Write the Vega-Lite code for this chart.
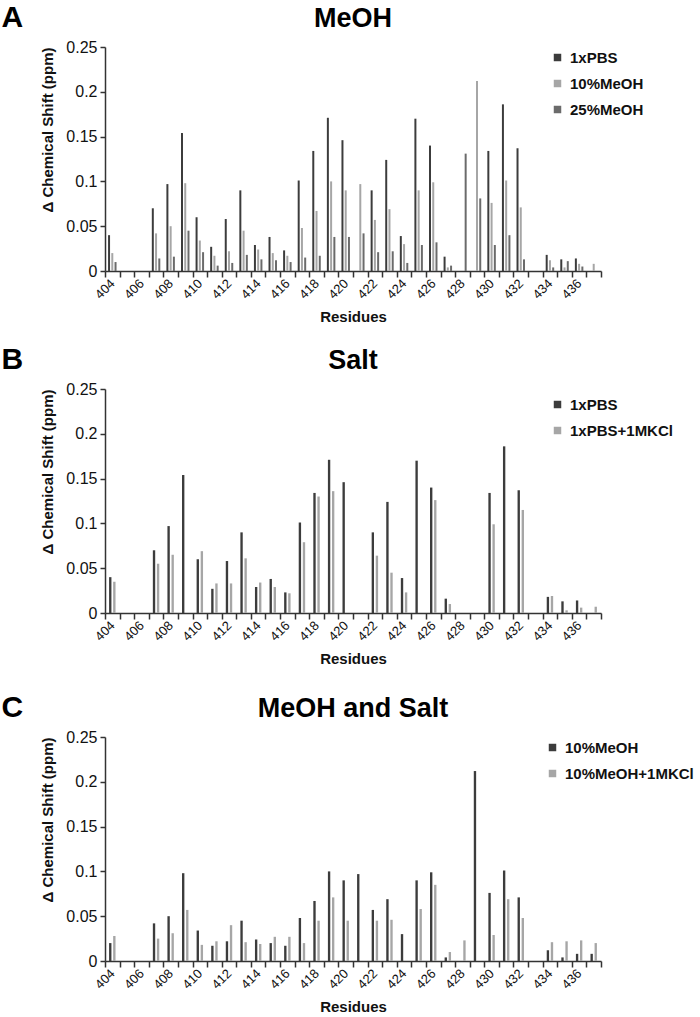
{
  "$schema": "https://vega.github.io/schema/vega-lite/v6.json",
  "padding": {"left": 1, "top": 3, "right": 0, "bottom": 0},
  "background": "white",
  "config": {
    "font": "Liberation Sans",
    "view": {"stroke": null},
    "axis": {"grid": false, "domainColor": "#333333", "domainWidth": 1.5, "tickColor": "#333333", "tickWidth": 1.5, "labelColor": "#111111", "titleColor": "#111111", "labelFont": "Liberation Sans", "titleFont": "Liberation Sans"},
    "legend": {"labelFont": "Liberation Sans"},
    "title": {"font": "Liberation Sans", "color": "#000000"}
  },
  "datasets": {
    "A": [
      {"residue": 404, "series": "1xPBS", "value": 0.040}, {"residue": 404, "series": "10%MeOH", "value": 0.020}, {"residue": 404, "series": "25%MeOH", "value": 0.010},
      {"residue": 407, "series": "1xPBS", "value": 0.070}, {"residue": 407, "series": "10%MeOH", "value": 0.042}, {"residue": 407, "series": "25%MeOH", "value": 0.014},
      {"residue": 408, "series": "1xPBS", "value": 0.097}, {"residue": 408, "series": "10%MeOH", "value": 0.050}, {"residue": 408, "series": "25%MeOH", "value": 0.016},
      {"residue": 409, "series": "1xPBS", "value": 0.154}, {"residue": 409, "series": "10%MeOH", "value": 0.098}, {"residue": 409, "series": "25%MeOH", "value": 0.045},
      {"residue": 410, "series": "1xPBS", "value": 0.060}, {"residue": 410, "series": "10%MeOH", "value": 0.034}, {"residue": 410, "series": "25%MeOH", "value": 0.021},
      {"residue": 411, "series": "1xPBS", "value": 0.027}, {"residue": 411, "series": "10%MeOH", "value": 0.017}, {"residue": 411, "series": "25%MeOH", "value": 0.006},
      {"residue": 412, "series": "1xPBS", "value": 0.058}, {"residue": 412, "series": "10%MeOH", "value": 0.022}, {"residue": 412, "series": "25%MeOH", "value": 0.009},
      {"residue": 413, "series": "1xPBS", "value": 0.090}, {"residue": 413, "series": "10%MeOH", "value": 0.045}, {"residue": 413, "series": "25%MeOH", "value": 0.018},
      {"residue": 414, "series": "1xPBS", "value": 0.029}, {"residue": 414, "series": "10%MeOH", "value": 0.024}, {"residue": 414, "series": "25%MeOH", "value": 0.013},
      {"residue": 415, "series": "1xPBS", "value": 0.038}, {"residue": 415, "series": "10%MeOH", "value": 0.020}, {"residue": 415, "series": "25%MeOH", "value": 0.012},
      {"residue": 416, "series": "1xPBS", "value": 0.023}, {"residue": 416, "series": "10%MeOH", "value": 0.017}, {"residue": 416, "series": "25%MeOH", "value": 0.010},
      {"residue": 417, "series": "1xPBS", "value": 0.101}, {"residue": 417, "series": "10%MeOH", "value": 0.048}, {"residue": 417, "series": "25%MeOH", "value": 0.015},
      {"residue": 418, "series": "1xPBS", "value": 0.134}, {"residue": 418, "series": "10%MeOH", "value": 0.067}, {"residue": 418, "series": "25%MeOH", "value": 0.017},
      {"residue": 419, "series": "1xPBS", "value": 0.171}, {"residue": 419, "series": "10%MeOH", "value": 0.100}, {"residue": 419, "series": "25%MeOH", "value": 0.038},
      {"residue": 420, "series": "1xPBS", "value": 0.146}, {"residue": 420, "series": "10%MeOH", "value": 0.090}, {"residue": 420, "series": "25%MeOH", "value": 0.038},
      {"residue": 421, "series": "10%MeOH", "value": 0.097}, {"residue": 421, "series": "25%MeOH", "value": 0.042},
      {"residue": 422, "series": "1xPBS", "value": 0.090}, {"residue": 422, "series": "10%MeOH", "value": 0.057}, {"residue": 422, "series": "25%MeOH", "value": 0.021},
      {"residue": 423, "series": "1xPBS", "value": 0.124}, {"residue": 423, "series": "10%MeOH", "value": 0.069}, {"residue": 423, "series": "25%MeOH", "value": 0.022},
      {"residue": 424, "series": "1xPBS", "value": 0.039}, {"residue": 424, "series": "10%MeOH", "value": 0.030}, {"residue": 424, "series": "25%MeOH", "value": 0.009},
      {"residue": 425, "series": "1xPBS", "value": 0.170}, {"residue": 425, "series": "10%MeOH", "value": 0.090}, {"residue": 425, "series": "25%MeOH", "value": 0.029},
      {"residue": 426, "series": "1xPBS", "value": 0.140}, {"residue": 426, "series": "10%MeOH", "value": 0.099}, {"residue": 426, "series": "25%MeOH", "value": 0.032},
      {"residue": 427, "series": "1xPBS", "value": 0.016}, {"residue": 427, "series": "10%MeOH", "value": 0.004}, {"residue": 427, "series": "25%MeOH", "value": 0.006},
      {"residue": 428, "series": "25%MeOH", "value": 0.131},
      {"residue": 429, "series": "10%MeOH", "value": 0.212}, {"residue": 429, "series": "25%MeOH", "value": 0.081},
      {"residue": 430, "series": "1xPBS", "value": 0.134}, {"residue": 430, "series": "10%MeOH", "value": 0.076}, {"residue": 430, "series": "25%MeOH", "value": 0.029},
      {"residue": 431, "series": "1xPBS", "value": 0.186}, {"residue": 431, "series": "10%MeOH", "value": 0.101}, {"residue": 431, "series": "25%MeOH", "value": 0.040},
      {"residue": 432, "series": "1xPBS", "value": 0.137}, {"residue": 432, "series": "10%MeOH", "value": 0.071}, {"residue": 432, "series": "25%MeOH", "value": 0.013},
      {"residue": 434, "series": "1xPBS", "value": 0.018}, {"residue": 434, "series": "10%MeOH", "value": 0.012}, {"residue": 434, "series": "25%MeOH", "value": 0.004},
      {"residue": 435, "series": "1xPBS", "value": 0.013}, {"residue": 435, "series": "10%MeOH", "value": 0.004}, {"residue": 435, "series": "25%MeOH", "value": 0.011},
      {"residue": 436, "series": "1xPBS", "value": 0.014}, {"residue": 436, "series": "10%MeOH", "value": 0.008}, {"residue": 436, "series": "25%MeOH", "value": 0.005},
      {"residue": 437, "series": "10%MeOH", "value": 0.008}
    ],
    "B": [
      {"residue": 404, "series": "1xPBS", "value": 0.040}, {"residue": 404, "series": "1xPBS+1MKCl", "value": 0.035},
      {"residue": 407, "series": "1xPBS", "value": 0.070}, {"residue": 407, "series": "1xPBS+1MKCl", "value": 0.055},
      {"residue": 408, "series": "1xPBS", "value": 0.097}, {"residue": 408, "series": "1xPBS+1MKCl", "value": 0.065},
      {"residue": 409, "series": "1xPBS", "value": 0.154},
      {"residue": 410, "series": "1xPBS", "value": 0.060}, {"residue": 410, "series": "1xPBS+1MKCl", "value": 0.069},
      {"residue": 411, "series": "1xPBS", "value": 0.027}, {"residue": 411, "series": "1xPBS+1MKCl", "value": 0.033},
      {"residue": 412, "series": "1xPBS", "value": 0.058}, {"residue": 412, "series": "1xPBS+1MKCl", "value": 0.033},
      {"residue": 413, "series": "1xPBS", "value": 0.090}, {"residue": 413, "series": "1xPBS+1MKCl", "value": 0.061},
      {"residue": 414, "series": "1xPBS", "value": 0.029}, {"residue": 414, "series": "1xPBS+1MKCl", "value": 0.034},
      {"residue": 415, "series": "1xPBS", "value": 0.038}, {"residue": 415, "series": "1xPBS+1MKCl", "value": 0.029},
      {"residue": 416, "series": "1xPBS", "value": 0.023}, {"residue": 416, "series": "1xPBS+1MKCl", "value": 0.022},
      {"residue": 417, "series": "1xPBS", "value": 0.101}, {"residue": 417, "series": "1xPBS+1MKCl", "value": 0.079},
      {"residue": 418, "series": "1xPBS", "value": 0.134}, {"residue": 418, "series": "1xPBS+1MKCl", "value": 0.130},
      {"residue": 419, "series": "1xPBS", "value": 0.171}, {"residue": 419, "series": "1xPBS+1MKCl", "value": 0.136},
      {"residue": 420, "series": "1xPBS", "value": 0.146},
      {"residue": 422, "series": "1xPBS", "value": 0.090}, {"residue": 422, "series": "1xPBS+1MKCl", "value": 0.064},
      {"residue": 423, "series": "1xPBS", "value": 0.124}, {"residue": 423, "series": "1xPBS+1MKCl", "value": 0.045},
      {"residue": 424, "series": "1xPBS", "value": 0.039}, {"residue": 424, "series": "1xPBS+1MKCl", "value": 0.023},
      {"residue": 425, "series": "1xPBS", "value": 0.170},
      {"residue": 426, "series": "1xPBS", "value": 0.140}, {"residue": 426, "series": "1xPBS+1MKCl", "value": 0.126},
      {"residue": 427, "series": "1xPBS", "value": 0.016}, {"residue": 427, "series": "1xPBS+1MKCl", "value": 0.010},
      {"residue": 430, "series": "1xPBS", "value": 0.134}, {"residue": 430, "series": "1xPBS+1MKCl", "value": 0.099},
      {"residue": 431, "series": "1xPBS", "value": 0.186},
      {"residue": 432, "series": "1xPBS", "value": 0.137}, {"residue": 432, "series": "1xPBS+1MKCl", "value": 0.115},
      {"residue": 434, "series": "1xPBS", "value": 0.018}, {"residue": 434, "series": "1xPBS+1MKCl", "value": 0.019},
      {"residue": 435, "series": "1xPBS", "value": 0.013}, {"residue": 435, "series": "1xPBS+1MKCl", "value": 0.003},
      {"residue": 436, "series": "1xPBS", "value": 0.014}, {"residue": 436, "series": "1xPBS+1MKCl", "value": 0.006},
      {"residue": 437, "series": "1xPBS+1MKCl", "value": 0.007}
    ],
    "C": [
      {"residue": 404, "series": "10%MeOH", "value": 0.020}, {"residue": 404, "series": "10%MeOH+1MKCl", "value": 0.028},
      {"residue": 407, "series": "10%MeOH", "value": 0.042}, {"residue": 407, "series": "10%MeOH+1MKCl", "value": 0.025},
      {"residue": 408, "series": "10%MeOH", "value": 0.050}, {"residue": 408, "series": "10%MeOH+1MKCl", "value": 0.031},
      {"residue": 409, "series": "10%MeOH", "value": 0.098}, {"residue": 409, "series": "10%MeOH+1MKCl", "value": 0.057},
      {"residue": 410, "series": "10%MeOH", "value": 0.034}, {"residue": 410, "series": "10%MeOH+1MKCl", "value": 0.018},
      {"residue": 411, "series": "10%MeOH", "value": 0.017}, {"residue": 411, "series": "10%MeOH+1MKCl", "value": 0.022},
      {"residue": 412, "series": "10%MeOH", "value": 0.022}, {"residue": 412, "series": "10%MeOH+1MKCl", "value": 0.040},
      {"residue": 413, "series": "10%MeOH", "value": 0.045}, {"residue": 413, "series": "10%MeOH+1MKCl", "value": 0.021},
      {"residue": 414, "series": "10%MeOH", "value": 0.024}, {"residue": 414, "series": "10%MeOH+1MKCl", "value": 0.019},
      {"residue": 415, "series": "10%MeOH", "value": 0.020}, {"residue": 415, "series": "10%MeOH+1MKCl", "value": 0.027},
      {"residue": 416, "series": "10%MeOH", "value": 0.017}, {"residue": 416, "series": "10%MeOH+1MKCl", "value": 0.027},
      {"residue": 417, "series": "10%MeOH", "value": 0.048}, {"residue": 417, "series": "10%MeOH+1MKCl", "value": 0.020},
      {"residue": 418, "series": "10%MeOH", "value": 0.067}, {"residue": 418, "series": "10%MeOH+1MKCl", "value": 0.045},
      {"residue": 419, "series": "10%MeOH", "value": 0.100}, {"residue": 419, "series": "10%MeOH+1MKCl", "value": 0.071},
      {"residue": 420, "series": "10%MeOH", "value": 0.090}, {"residue": 420, "series": "10%MeOH+1MKCl", "value": 0.045},
      {"residue": 421, "series": "10%MeOH", "value": 0.097},
      {"residue": 422, "series": "10%MeOH", "value": 0.057}, {"residue": 422, "series": "10%MeOH+1MKCl", "value": 0.045},
      {"residue": 423, "series": "10%MeOH", "value": 0.069}, {"residue": 423, "series": "10%MeOH+1MKCl", "value": 0.046},
      {"residue": 424, "series": "10%MeOH", "value": 0.030},
      {"residue": 425, "series": "10%MeOH", "value": 0.090}, {"residue": 425, "series": "10%MeOH+1MKCl", "value": 0.058},
      {"residue": 426, "series": "10%MeOH", "value": 0.099}, {"residue": 426, "series": "10%MeOH+1MKCl", "value": 0.085},
      {"residue": 427, "series": "10%MeOH", "value": 0.004}, {"residue": 427, "series": "10%MeOH+1MKCl", "value": 0.010},
      {"residue": 428, "series": "10%MeOH+1MKCl", "value": 0.023},
      {"residue": 429, "series": "10%MeOH", "value": 0.212},
      {"residue": 430, "series": "10%MeOH", "value": 0.076}, {"residue": 430, "series": "10%MeOH+1MKCl", "value": 0.029},
      {"residue": 431, "series": "10%MeOH", "value": 0.101}, {"residue": 431, "series": "10%MeOH+1MKCl", "value": 0.069},
      {"residue": 432, "series": "10%MeOH", "value": 0.071}, {"residue": 432, "series": "10%MeOH+1MKCl", "value": 0.048},
      {"residue": 434, "series": "10%MeOH", "value": 0.012}, {"residue": 434, "series": "10%MeOH+1MKCl", "value": 0.021},
      {"residue": 435, "series": "10%MeOH", "value": 0.004}, {"residue": 435, "series": "10%MeOH+1MKCl", "value": 0.022},
      {"residue": 436, "series": "10%MeOH", "value": 0.008}, {"residue": 436, "series": "10%MeOH+1MKCl", "value": 0.023},
      {"residue": 437, "series": "10%MeOH", "value": 0.008}, {"residue": 437, "series": "10%MeOH+1MKCl", "value": 0.020}
    ]
  },
  "spacing": 20,
  "resolve": {"scale": {"x": "independent", "y": "independent", "color": "independent", "xOffset": "independent"}, "legend": {"color": "independent"}},
  "vconcat": [
    {
      "title": {"text": "A", "orient": "left", "angle": 0, "anchor": "end", "align": "right", "baseline": "top", "fontSize": 30, "fontWeight": "bold", "offset": -4, "dy": -2},
      "vconcat": [
        {
          "title": {"text": "MeOH", "fontSize": 27, "fontWeight": "bold", "baseline": "alphabetic", "offset": -15},
          "width": 496, "height": 224,
          "data": {"name": "A"},
          "mark": {"type": "bar"},
          "encoding": {
            "x": {"field": "residue", "type": "ordinal", "title": "Residues",
              "scale": {"domain": [404,405,406,407,408,409,410,411,412,413,414,415,416,417,418,419,420,421,422,423,424,425,426,427,428,429,430,431,432,433,434,435,436,437], "paddingInner": 0, "paddingOuter": 0},
              "axis": {"labelExpr": "datum.value % 2 == 0 ? datum.label : ''", "labelAngle": -45, "labelAlign": "right", "labelBaseline": "middle", "labelFontSize": 13, "labelOverlap": false, "labelFlush": false, "tickBand": "extent", "tickSize": 6, "labelPadding": 4, "titleFontSize": 15, "titleFontWeight": "bold", "titlePadding": 8}},
            "xOffset": {"field": "series", "type": "nominal", "scale": {"domain": ["1xPBS", "10%MeOH", "25%MeOH"], "paddingInner": 0.385, "paddingOuter": 0.94}},
            "y": {"field": "value", "type": "quantitative", "title": "Δ Chemical Shift (ppm)",
              "scale": {"domain": [0, 0.25], "nice": false},
              "axis": {"values": [0, 0.05, 0.1, 0.15, 0.2, 0.25], "format": ".2~f", "labelFontSize": 16, "tickSize": 5, "labelPadding": 3, "titleFontSize": 15, "titleFontWeight": "bold", "titleAnchor": "end", "titlePadding": 10}},
            "color": {"field": "series", "type": "nominal",
              "scale": {"domain": ["1xPBS", "10%MeOH", "25%MeOH"], "range": ["#3c3c3c", "#a6a6a6", "#6b6b6b"]},
              "legend": {"orient": "none", "legendX": 445, "legendY": 3, "title": null, "symbolType": "square", "symbolSize": 56, "symbolStrokeWidth": 0, "labelFontSize": 15, "labelFontWeight": "bold", "labelColor": "#111111", "rowPadding": 10, "labelOffset": 5, "padding": 0}}
          }
        }
      ]
    },
    {
      "spacing": 26,
      "resolve": {"scale": {"x": "independent", "y": "independent", "color": "independent", "xOffset": "independent"}, "legend": {"color": "independent"}},
      "vconcat": [
        {
          "title": {"text": "B", "orient": "left", "angle": 0, "anchor": "end", "align": "right", "baseline": "top", "fontSize": 30, "fontWeight": "bold", "offset": -4, "dy": -2},
          "vconcat": [
            {
              "title": {"text": "Salt", "fontSize": 27, "fontWeight": "bold", "baseline": "alphabetic", "offset": -15},
              "width": 496, "height": 224,
              "data": {"name": "B"},
              "mark": {"type": "bar"},
              "encoding": {
                "x": {"field": "residue", "type": "ordinal", "title": "Residues",
                  "scale": {"domain": [404,405,406,407,408,409,410,411,412,413,414,415,416,417,418,419,420,421,422,423,424,425,426,427,428,429,430,431,432,433,434,435,436,437], "paddingInner": 0, "paddingOuter": 0},
                  "axis": {"labelExpr": "datum.value % 2 == 0 ? datum.label : ''", "labelAngle": -45, "labelAlign": "right", "labelBaseline": "middle", "labelFontSize": 13, "labelOverlap": false, "labelFlush": false, "tickBand": "extent", "tickSize": 6, "labelPadding": 4, "titleFontSize": 15, "titleFontWeight": "bold", "titlePadding": 8}},
                "xOffset": {"field": "series", "type": "nominal", "scale": {"domain": ["1xPBS", "1xPBS+1MKCl"], "paddingInner": 0.42, "paddingOuter": 1.03}},
                "y": {"field": "value", "type": "quantitative", "title": "Δ Chemical Shift (ppm)",
                  "scale": {"domain": [0, 0.25], "nice": false},
                  "axis": {"values": [0, 0.05, 0.1, 0.15, 0.2, 0.25], "format": ".2~f", "labelFontSize": 16, "tickSize": 5, "labelPadding": 3, "titleFontSize": 15, "titleFontWeight": "bold", "titleAnchor": "end", "titlePadding": 10}},
                "color": {"field": "series", "type": "nominal",
                  "scale": {"domain": ["1xPBS", "1xPBS+1MKCl"], "range": ["#3c3c3c", "#a6a6a6"]},
                  "legend": {"orient": "none", "legendX": 445, "legendY": 8, "title": null, "symbolType": "square", "symbolSize": 56, "symbolStrokeWidth": 0, "labelFontSize": 15, "labelFontWeight": "bold", "labelColor": "#111111", "rowPadding": 10, "labelOffset": 5, "padding": 0}}
              }
            }
          ]
        },
        {
          "title": {"text": "C", "orient": "left", "angle": 0, "anchor": "end", "align": "right", "baseline": "top", "fontSize": 30, "fontWeight": "bold", "offset": -4, "dy": -2},
          "vconcat": [
            {
              "title": {"text": "MeOH and Salt", "fontSize": 27, "fontWeight": "bold", "baseline": "alphabetic", "offset": -15},
              "width": 496, "height": 224,
              "data": {"name": "C"},
              "mark": {"type": "bar"},
              "encoding": {
                "x": {"field": "residue", "type": "ordinal", "title": "Residues",
                  "scale": {"domain": [404,405,406,407,408,409,410,411,412,413,414,415,416,417,418,419,420,421,422,423,424,425,426,427,428,429,430,431,432,433,434,435,436,437], "paddingInner": 0, "paddingOuter": 0},
                  "axis": {"labelExpr": "datum.value % 2 == 0 ? datum.label : ''", "labelAngle": -45, "labelAlign": "right", "labelBaseline": "middle", "labelFontSize": 13, "labelOverlap": false, "labelFlush": false, "tickBand": "extent", "tickSize": 6, "labelPadding": 4, "titleFontSize": 15, "titleFontWeight": "bold", "titlePadding": 8}},
                "xOffset": {"field": "series", "type": "nominal", "scale": {"domain": ["10%MeOH", "10%MeOH+1MKCl"], "paddingInner": 0.42, "paddingOuter": 1.03}},
                "y": {"field": "value", "type": "quantitative", "title": "Δ Chemical Shift (ppm)",
                  "scale": {"domain": [0, 0.25], "nice": false},
                  "axis": {"values": [0, 0.05, 0.1, 0.15, 0.2, 0.25], "format": ".2~f", "labelFontSize": 16, "tickSize": 5, "labelPadding": 3, "titleFontSize": 15, "titleFontWeight": "bold", "titleAnchor": "end", "titlePadding": 10}},
                "color": {"field": "series", "type": "nominal",
                  "scale": {"domain": ["10%MeOH", "10%MeOH+1MKCl"], "range": ["#3c3c3c", "#a6a6a6"]},
                  "legend": {"orient": "none", "legendX": 440, "legendY": 3, "title": null, "symbolType": "square", "symbolSize": 56, "symbolStrokeWidth": 0, "labelFontSize": 15, "labelFontWeight": "bold", "labelColor": "#111111", "rowPadding": 10, "labelOffset": 5, "padding": 0}}
              }
            }
          ]
        }
      ]
    }
  ]
}
